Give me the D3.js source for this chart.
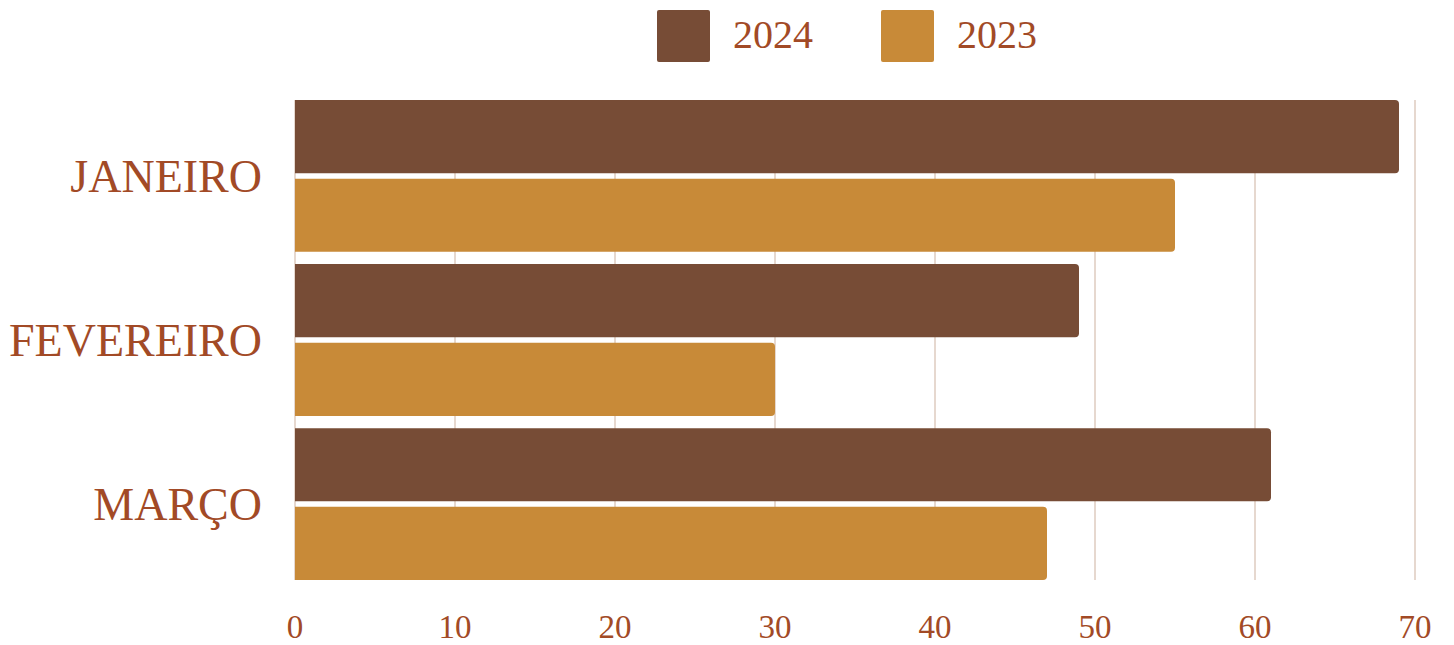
<!DOCTYPE html>
<html>
<head>
<meta charset="utf-8">
<script src="https://cdn.jsdelivr.net/npm/d3@7"></script>
<style>
    body { margin: 0; background: #fff; }
    text { font-family: "Liberation Serif", "DejaVu Serif", serif; fill: #a24a26; }
</style>
</head>
<body>
<div id="chart"></div>
<script>
var months = ["JANEIRO", "FEVEREIRO", "MARÇO"];
var series = ["2024", "2023"];
var values2024 = [69, 49, 61];
var values2023 = [55, 30, 47];
var xTicks = [0, 10, 20, 30, 40, 50, 60, 70];
var colors = ["#774c36", "#c88a38"];

function draw_chart() {
    const W = 1454, H = 645;
    const LEFT = 295, RIGHT = 1415, TOP = 100, BOTTOM = 580;

    var rows = months.map(function (m, i) {
        return { month: m, vals: [values2024[i], values2023[i]] };
    });

    var svg = d3.select("#chart").append("svg")
        .attr("width", W)
        .attr("height", H);

    var x = d3.scaleLinear().domain([0, 70]).range([LEFT, RIGHT]);
    var y0 = d3.scaleBand().domain(months).range([TOP, BOTTOM]).paddingInner(0.075).paddingOuter(0);
    var y1 = d3.scaleBand().domain(series).range([0, y0.bandwidth()]).paddingInner(0.07);

    // grid lines
    svg.append("g")
        .selectAll("line")
        .data(xTicks)
        .enter()
        .append("line")
        .attr("x1", function (d) { return x(d); })
        .attr("x2", function (d) { return x(d); })
        .attr("y1", TOP)
        .attr("y2", BOTTOM)
        .attr("stroke", "#e6d8cf")
        .attr("stroke-width", 2);

    // bars: flat left side, rounded right end
    function barPath(x0, x1, yt, h, r) {
        return "M" + x0 + "," + yt +
            "H" + (x1 - r) +
            "Q" + x1 + "," + yt + " " + x1 + "," + (yt + r) +
            "V" + (yt + h - r) +
            "Q" + x1 + "," + (yt + h) + " " + (x1 - r) + "," + (yt + h) +
            "H" + x0 + "Z";
    }

    var groups = svg.append("g")
        .selectAll("g")
        .data(rows)
        .enter()
        .append("g")
        .attr("transform", function (d) { return "translate(0," + y0(d.month) + ")"; });

    groups.selectAll("path")
        .data(function (d) { return d.vals.map(function (v, i) { return { key: series[i], value: v, i: i }; }); })
        .enter()
        .append("path")
        .attr("d", function (d) { return barPath(x(0), x(d.value), y1(d.key), y1.bandwidth(), 4); })
        .attr("fill", function (d) { return colors[d.i]; });

    // category labels
    svg.append("g")
        .selectAll("text")
        .data(months)
        .enter()
        .append("text")
        .attr("x", 262)
        .attr("y", function (d) { return y0(d) + y0.bandwidth() / 2; })
        .attr("dy", "0.35em")
        .attr("text-anchor", "end")
        .attr("font-size", 46)
        .text(function (d) { return d; });

    // x tick labels
    svg.append("g")
        .selectAll("text")
        .data(xTicks)
        .enter()
        .append("text")
        .attr("x", function (d) { return x(d); })
        .attr("y", 638)
        .attr("text-anchor", "middle")
        .attr("font-size", 33)
        .text(function (d) { return d; });

    // legend
    var legendX = [657, 881];
    var legend = svg.append("g")
        .selectAll("g")
        .data(series)
        .enter()
        .append("g")
        .attr("transform", function (d, i) { return "translate(" + legendX[i] + ",10)"; });

    legend.append("rect")
        .attr("width", 53)
        .attr("height", 52)
        .attr("rx", 2)
        .attr("fill", function (d, i) { return colors[i]; });

    legend.append("text")
        .attr("x", 76)
        .attr("y", 38)
        .attr("font-size", 40)
        .text(function (d) { return d; });
}

draw_chart();
</script>
</body>
</html>
